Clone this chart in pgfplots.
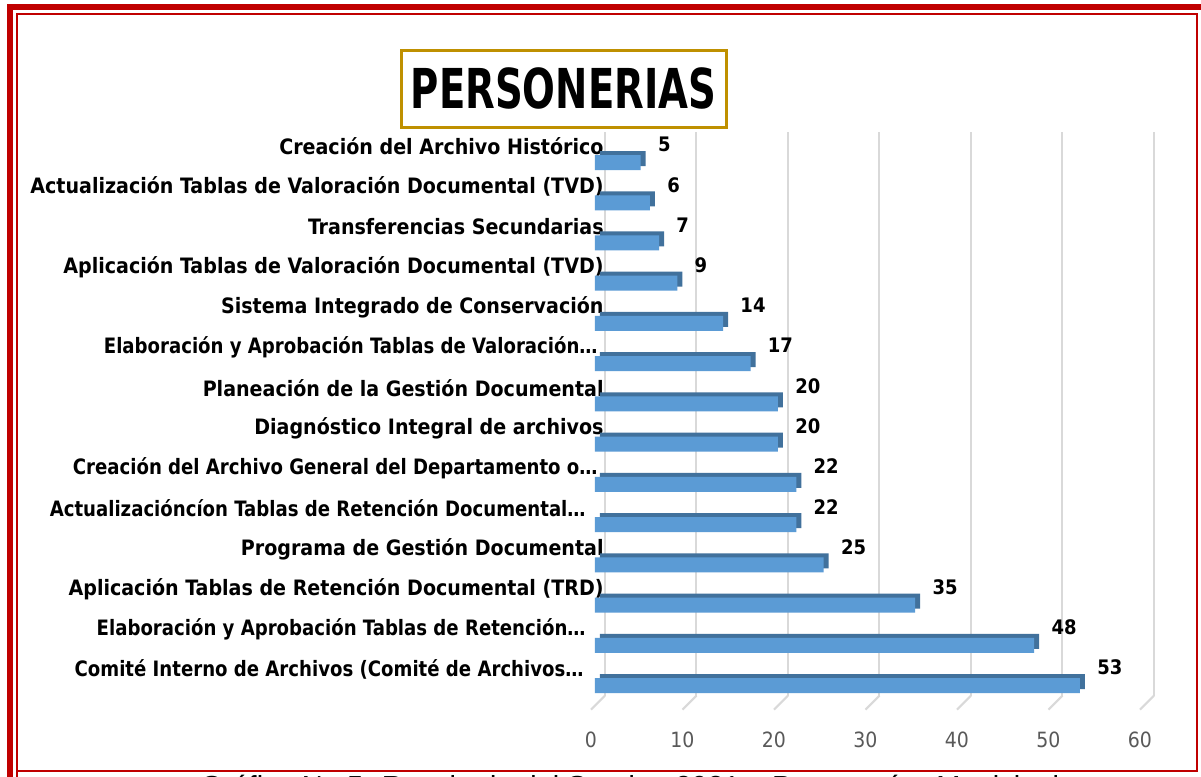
\documentclass[border=0pt]{standalone}
\usepackage{fontspec}
\setmainfont{DejaVu Sans Condensed}
\newfontfamily\titlefont{DejaVu Sans Condensed}[FakeStretch=0.78]
\newfontfamily\capfont{Liberation Sans}
\usepackage{pgfplots}
\usepackage{pgfplotstable}
\pgfplotsset{compat=1.18}
\usepackage{graphicx}
\definecolor{framered}{HTML}{C00000}
\definecolor{gold}{HTML}{BF9000}
\definecolor{barfront}{HTML}{5B9BD5}
\definecolor{barside}{HTML}{41719C}
\definecolor{gridc}{HTML}{D9D9D9}
\definecolor{tickc}{HTML}{595959}

\pgfplotstableread{
idx val
0 5
1 6
2 7
3 9
4 14
5 17
6 20
7 20
8 22
9 22
10 25
11 35
12 48
13 53
}\datatable

\newcommand{\nl}[2]{\scalebox{0.95}[1]{#2}\hspace*{#1}}

\begin{document}
\begin{tikzpicture}
\useasboundingbox (0pt,0pt) rectangle (600.5pt,-388.5pt);
\fill[white] (0pt,0pt) rectangle (600.5pt,-388.5pt);
% caption (cut off at the bottom)
\node[anchor=base west, inner sep=0pt, font=\capfont\fontsize{14.5}{17}\selectfont] at (100pt,-398pt) {Gráfico No 5. Resultado del Sondeo 2021 – Personerías Municipales};
% frame
\draw[framered, line width=3pt] (5pt,-388.5pt) -- (5pt,-3.5pt) -- (600.5pt,-3.5pt);
\draw[framered, line width=1pt] (8.5pt,-388.5pt) -- (8.5pt,-6.75pt) -- (598.5pt,-6.75pt) -- (598.5pt,-385.5pt) -- (8.5pt,-385.5pt);
% title
\node[draw=gold, line width=1.5pt, minimum width=162.5pt, minimum height=38.5pt, inner sep=0pt,
      font=\titlefont\bfseries\fontsize{27.5}{30}\selectfont] at (281.75pt,-44.25pt) {PERSONERIAS};
\begin{axis}[
  at={(297.5pt,-352.8pt)}, anchor=south west,
  scale only axis, width=274.5pt, height=281.6pt,
  xmin=0, xmax=60, ymin=-0.5, ymax=13.5, y dir=reverse,
  xbar, bar width=7.5pt,
  axis line style={draw=none},
  major tick length=0pt,
  xtick={0,10,20,30,40,50,60},
  xticklabels={0,10,20,30,40,50,60},
  xticklabel style={anchor=center, inner sep=0pt, yshift=-17pt, xshift=-2pt, text=tickc, font=\fontsize{10.5}{12}\selectfont},
  ytick={0,1,2,3,4,5,6,7,8,9,10,11,12,13},
  yticklabels={
    {Creación del Archivo Histórico},
    {Actualización Tablas de Valoración Documental (TVD)},
    {Transferencias Secundarias},
    {Aplicación Tablas de Valoración Documental (TVD)},
    {Sistema Integrado de Conservación},
    {\nl{3pt}{Elaboración y Aprobación Tablas de Valoración…}},
    {Planeación de la Gestión Documental},
    {Diagnóstico Integral de archivos},
    {\nl{3pt}{Creación del Archivo General del Departamento o…}},
    {\nl{9pt}{Actualizacióncíon Tablas de Retención Documental…}},
    {Programa de Gestión Documental},
    {Aplicación Tablas de Retención Documental (TRD)},
    {\nl{9pt}{Elaboración y Aprobación Tablas de Retención…}},
    {\nl{10pt}{Comité Interno de Archivos (Comité de Archivos…}}
  },
  yticklabel style={anchor=east, inner sep=0pt, xshift=4.5pt, yshift=8pt, font=\bfseries\fontsize{10.6}{12}\selectfont},
  xmajorgrids, ymajorgrids=false,
  major grid style={gridc, line width=1pt, xshift=5pt, yshift=5pt},
  clip=false,
  /pgf/number format/assume math mode=true,
]
\addplot[fill=barside, draw=none, bar shift=0pt, xshift=2.5pt, yshift=2pt] table[x=val,y=idx]{\datatable};
\addplot[fill=barfront, draw=none, bar shift=0pt,
  nodes near coords, nodes near coords align=horizontal,
  every node near coord/.append style={anchor=west, inner sep=0pt, xshift=8.5pt, yshift=9pt, text=black, font=\bfseries\fontsize{10}{12}\selectfont}]
  table[x=val,y=idx]{\datatable};
\pgfplotsinvokeforeach{0,10,20,30,40,50,60}{
  \draw[gridc, line width=1pt] ([xshift=-2pt,yshift=-2pt]axis cs:#1,13.5) -- ([xshift=5pt,yshift=5pt]axis cs:#1,13.5);
}
\end{axis}
\end{tikzpicture}
\end{document}
